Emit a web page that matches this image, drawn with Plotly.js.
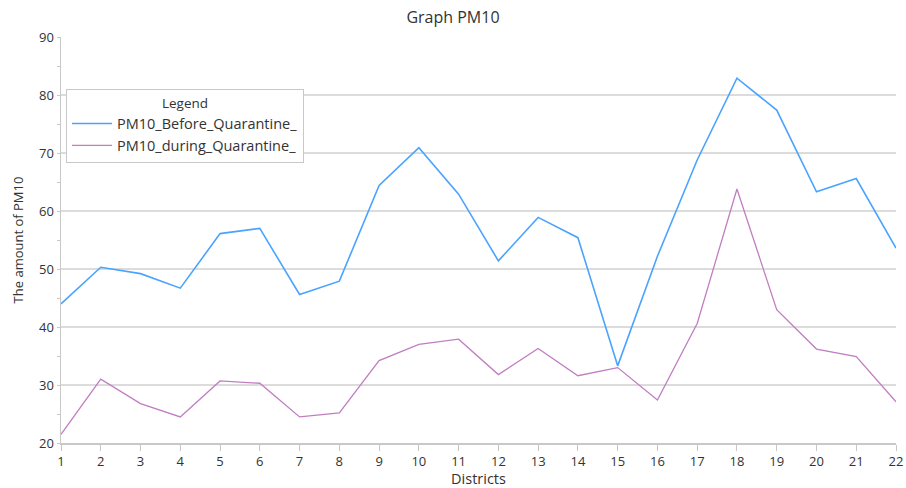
<!DOCTYPE html>
<html>
<head>
<meta charset="utf-8">
<script src="https://cdn.plot.ly/plotly-3.0.1.min.js"></script>
<style>html,body{margin:0;padding:0;background:#fff;}#chart{width:906px;height:488px;}</style>
</head>
<body>
<div id="chart"></div>
<script>
const districts = [1,2,3,4,5,6,7,8,9,10,11,12,13,14,15,16,17,18,19,20,21,22];
const pm10Before = [44,50.3,49.2,46.7,56.1,57,45.6,47.9,64.4,70.9,62.9,51.4,58.9,55.4,33.3,52.2,68.8,82.9,77.4,63.3,65.6,53.6];
const pm10During = [21.5,31,26.8,24.5,30.7,30.3,24.5,25.2,34.2,37,37.9,31.8,36.3,31.6,33,27.4,40.6,63.8,43,36.2,34.9,27.1];
const seriesNames = ['PM10_Before_Quarantine_', 'PM10_during_Quarantine_'];
const yTicks = [20,30,40,50,60,70,80,90];

const fam = 'Open Sans, DejaVu Sans, sans-serif';
const txt = '#333';
const traces = [
  {x: districts, y: pm10Before, name: seriesNames[0], type: 'scatter', mode: 'lines',
   line: {color: '#4aa3ff', width: 1.6}},
  {x: districts, y: pm10During, name: seriesNames[1], type: 'scatter', mode: 'lines',
   line: {color: '#c07ec0', width: 1.3}}
];
const layout = {
  width: 906, height: 488,
  margin: {l: 61, r: 10, t: 37, b: 45},
  paper_bgcolor: '#fff', plot_bgcolor: '#fff',
  font: {family: fam, size: 13, color: txt},
  title: {text: 'Graph PM10', x: 0.5, xref: 'container', y: 0.965, yanchor: 'middle', font: {family: fam, size: 16, color: txt}},
  xaxis: {
    range: [1, 22], tickvals: districts, ticktext: districts.map(String),
    showgrid: false, zeroline: false, showline: true, linecolor: '#c8c8c8', linewidth: 1.5,
    ticks: 'outside', ticklen: 6, tickcolor: '#c8c8c8', tickwidth: 1,
    tickfont: {family: fam, size: 13, color: txt},
    title: {text: 'Districts', standoff: 4, font: {family: fam, size: 14.5, color: txt}}
  },
  yaxis: {
    range: [20, 90], tickvals: yTicks, ticktext: yTicks.map(String),
    showgrid: true, gridcolor: '#dcdcdc', gridwidth: 1.6, zeroline: false,
    showline: true, linecolor: '#c8c8c8', linewidth: 1.5,
    ticks: 'outside', ticklen: 3, tickcolor: '#c8c8c8',
    minor: {dtick: 5, ticks: 'outside', ticklen: 3, tickcolor: '#c8c8c8', showgrid: false},
    tickfont: {family: fam, size: 13, color: txt},
    title: {text: 'The amount of PM10', standoff: 12, font: {family: fam, size: 13, color: txt}}
  },
  showlegend: true,
  legend: {
    x: 0.006, y: 0.872, xanchor: 'left', yanchor: 'top',
    bgcolor: '#fff', bordercolor: '#c8c8c8', borderwidth: 1,
    title: {text: 'Legend', side: 'top center', font: {family: fam, size: 13.5, color: txt}},
    font: {family: fam, size: 14.5, color: txt},
    itemwidth: 40, tracegroupgap: 0
  }
};
Plotly.newPlot('chart', traces, layout, {displayModeBar: false, staticPlot: true});
</script>
</body>
</html>
